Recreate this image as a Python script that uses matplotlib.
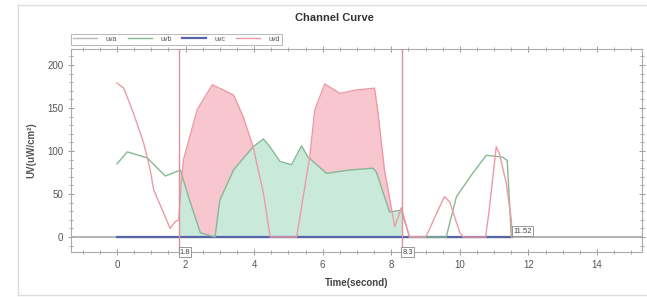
import matplotlib
matplotlib.use('Agg')
import matplotlib.pyplot as plt
import numpy as np

plt.rcParams['font.family'] = ['Liberation Sans', 'DejaVu Sans']

# readings taken off the chart
uvb_t = [0, 0.3, 0.88, 1.41, 1.8, 1.85, 2.1, 2.43, 2.86, 3.0, 3.4, 3.97, 4.27, 4.46,
         4.75, 5.09, 5.38, 5.57, 6.11, 6.79, 7.46, 7.56, 7.95, 8.24, 8.3, 8.53,
         9.6, 9.9, 10.37, 10.77, 11.24, 11.38, 11.5, 11.52]
uvb_v = [85, 99, 92, 71, 77, 78, 45, 5, 0, 43, 78, 105, 114, 105,
         88, 84, 106, 93, 74, 78, 80, 76, 29, 31, 30, 0,
         0, 47, 74, 95, 93, 89, 0, 0]

uvd_t = [0, 0.2, 0.48, 0.78, 0.97, 1.07, 1.36, 1.55, 1.7, 1.8, 1.87, 1.94, 2.34,
         2.78, 3.1, 3.4, 3.68, 3.97, 4.27, 4.47, 5.24, 5.62, 5.77, 6.06, 6.5,
         6.98, 7.51, 7.6, 7.8, 8.1, 8.29, 8.3, 8.53, 9.0, 9.1, 9.35, 9.55, 9.7,
         10.0, 10.1, 10.75, 10.85, 11.06, 11.15, 11.35, 11.5, 11.52]
uvd_v = [179, 173, 144, 109, 78, 55, 28, 10, 18, 20, 60, 90, 148,
         177, 171, 165, 140, 105, 51, 0, 0, 93, 148, 178, 167,
         171, 173, 148, 78, 12, 34, 33, 0, 0, 8, 30, 47, 41,
         5, 0, 0, 30, 105, 97, 63, 20, 0]

uva_t = [0, 11.52]
uva_v = [0, 0]
uvc_t = [0, 11.52]
uvc_v = [0, 0]

cursors = [1.8, 8.3]
end_time = 11.52

fig = plt.figure(figsize=(6.47, 2.97), dpi=100)
ax = fig.add_axes([71/647, 1 - 252/297, (642-71)/647, (252-49)/297])

# fill only between the two cursors
bt = np.array(uvb_t); bv = np.array(uvb_v)
dt = np.array(uvd_t); dv = np.array(uvd_v)
ax.fill_between(dt, dv, where=(dt >= cursors[0]) & (dt <= cursors[1]),
                color='#f7c6ce', lw=0, zorder=1)
ax.fill_between(bt, bv, where=(bt >= cursors[0]) & (bt <= cursors[1]),
                color='#c9eadb', lw=0, zorder=2)

ax.axhline(0, color='#a8a8a8', lw=1.2, zorder=2.5)
ax.plot(uva_t, uva_v, color='#b8b8b8', lw=1, label='uva', zorder=3)
ax.plot(uvc_t, uvc_v, color='#5864a8', lw=1.6, label='uvc', zorder=3)
ax.plot(bt, bv, color='#86b896', lw=1, label='uvb', zorder=4)
ax.plot(dt, dv, color='#ee9aa6', lw=1, label='uvd', zorder=5)

for c in cursors:
    ax.axvline(c, color='#e0909c', lw=1, zorder=6)
    ax.text(c + 0.03, -17.4, str(c), fontsize=5.5, color='#444', ha='left', va='center',
            bbox=dict(boxstyle='square,pad=0.15', fc='white', ec='#888', lw=0.6), zorder=7)
ax.text(end_time + 0.03, 7, str(end_time), fontsize=5.5, color='#444', ha='left', va='center',
        bbox=dict(boxstyle='square,pad=0.15', fc='white', ec='#888', lw=0.6), zorder=7)

ax.set_xlim(-1.34, 15.31)
ax.set_ylim(-17.4, 218.6)
ax.set_xticks(np.arange(0, 15, 2))
ax.set_xticks(np.arange(-1, 15.5, 0.5), minor=True)
ax.set_yticks(np.arange(0, 201, 50))
ax.set_yticks(np.arange(-10, 211, 10), minor=True)
ax.tick_params(which='both', direction='inout', top=True, right=True,
               color='#999', labelsize=7, labelcolor='#555')
ax.tick_params(which='major', length=4, width=0.7)
ax.tick_params(which='minor', length=2.5, width=0.6)
ax.tick_params(labeltop=False, labelright=False)
for s in ax.spines.values():
    s.set_color('#aaa')
    s.set_linewidth(0.8)

ax.set_xlabel('Time(second)', fontsize=7, fontweight='bold', color='#444', labelpad=6)
ax.set_ylabel('UV(uW/cm²)', fontsize=7, fontweight='bold', color='#555', labelpad=8)
fig.text(334/647, 1 - 18/297, 'Channel Curve', fontsize=8, fontweight='bold',
         color='#333', ha='center', va='center')

handles, labels = ax.get_legend_handles_labels()
order = [labels.index(n) for n in ['uva', 'uvb', 'uvc', 'uvd']]
leg = ax.legend([handles[i] for i in order], [labels[i] for i in order],
                loc='lower left', bbox_to_anchor=(0.0, 1.02), ncol=4, fontsize=5,
                frameon=True, fancybox=False, edgecolor='#999', handlelength=3.5,
                columnspacing=1.5, borderpad=0.3, handletextpad=1.2, borderaxespad=0)
leg.get_frame().set_linewidth(0.6)
for t in leg.get_texts():
    t.set_color('#555')

# light frame around the panel
fig.add_artist(plt.Line2D([18/647, 1], [1 - 5/297] * 2, color='#ddd', lw=1))
fig.add_artist(plt.Line2D([18/647, 1], [1 - 295/297] * 2, color='#ddd', lw=1))
fig.add_artist(plt.Line2D([18/647] * 2, [1 - 295/297, 1 - 5/297], color='#ddd', lw=1))

fig.savefig('out.png', dpi=100)
